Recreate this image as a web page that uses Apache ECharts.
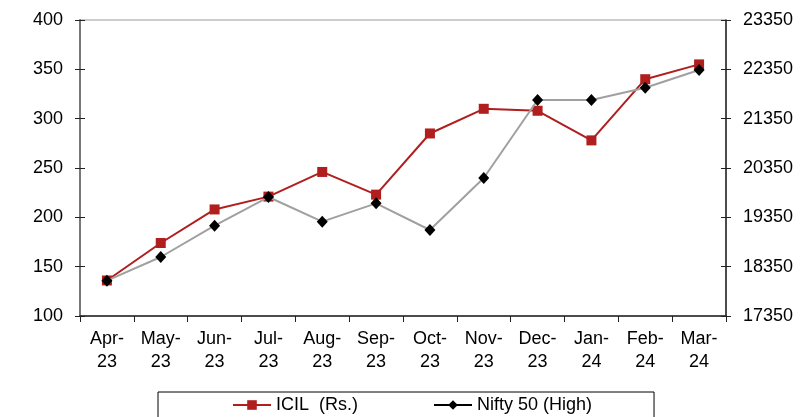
<!DOCTYPE html>
<html>
<head>
<meta charset="utf-8">
<script src="https://cdn.jsdelivr.net/npm/echarts@6/dist/echarts.min.js"></script>
<style>
  html, body { margin: 0; padding: 0; background: #fff; }
  #chart { width: 811px; height: 417px; }
</style>
</head>
<body>
<div id="chart"></div>
<script>
const months = ['Apr-23', 'May-23', 'Jun-23', 'Jul-23', 'Aug-23', 'Sep-23', 'Oct-23', 'Nov-23', 'Dec-23', 'Jan-24', 'Feb-24', 'Mar-24'];
const icil = [136, 174, 208, 221, 246, 223, 285, 310, 308, 278, 340, 355];
const nifty = [18066, 18546, 19180, 19762, 19262, 19634, 19093, 20147, 21728, 21728, 21978, 22337];

const font = 'Liberation Sans, Arial, sans-serif';
const chart = echarts.init(document.getElementById('chart'));

const baseY = (pos, min, max, interval) => ({
  type: 'value',
  position: pos,
  min: min,
  max: max,
  interval: interval,
  splitLine: { show: false },
});

chart.setOption({
  animation: false,
  backgroundColor: '#fff',
  grid: {
    left: 80, right: 85, top: 20, bottom: 101,
    show: true, borderColor: '#999', borderWidth: 1,
  },
  legend: {
    top: 392,
    left: 158,
    padding: [4, 62, 40, 74],
    itemGap: 75,
    itemWidth: 38,
    itemHeight: 12,
    borderColor: '#000',
    borderWidth: 1,
    textStyle: { fontFamily: font, fontSize: 18, color: '#000' },
    data: [
      { name: 'ICIL  (Rs.)' },
      { name: 'Nifty 50 (High)', lineStyle: { color: '#000' } },
    ],
  },
  xAxis: {
    type: 'category',
    data: months,
    boundaryGap: true,
    axisLine: { lineStyle: { color: '#222', width: 1.5 } },
    axisTick: { show: true, length: 6, lineStyle: { color: '#222' } },
    axisLabel: {
      interval: 0,
      margin: 12,
      color: '#000',
      fontFamily: font,
      fontSize: 18,
      lineHeight: 23,
      formatter: (v) => v.replace('-', '-\n'),
    },
  },
  yAxis: [
    Object.assign(baseY('left', 100, 400, 50), {
      axisLine: { show: true, lineStyle: { color: '#777', width: 2 } },
      axisTick: { show: true, length: 5, lineStyle: { color: '#222' } },
      axisLabel: { color: '#000', fontFamily: font, fontSize: 18, margin: 17 },
    }),
    Object.assign(baseY('right', 17350, 23350, 1000), {
      axisLine: { show: true, lineStyle: { color: '#222', width: 1.5 } },
      axisTick: { show: true, length: 5, lineStyle: { color: '#222' } },
      axisLabel: { color: '#000', fontFamily: font, fontSize: 18, margin: 17, formatter: (v) => String(v) },
    }),
    Object.assign(baseY('left', 100, 400, 50), {
      axisLine: { show: false },
      axisTick: { show: true, inside: true, length: 5, lineStyle: { color: '#222' } },
      axisLabel: { show: false },
    }),
    Object.assign(baseY('right', 17350, 23350, 1000), {
      axisLine: { show: false },
      axisTick: { show: true, inside: true, length: 5, lineStyle: { color: '#222' } },
      axisLabel: { show: false },
    }),
  ],
  series: [
    {
      name: 'ICIL  (Rs.)',
      type: 'line',
      yAxisIndex: 0,
      data: icil,
      symbol: 'rect',
      symbolSize: 10,
      lineStyle: { color: '#b01e1e', width: 2 },
      itemStyle: { color: '#b01e1e' },
      z: 2,
    },
    {
      name: 'Nifty 50 (High)',
      type: 'line',
      yAxisIndex: 1,
      data: nifty,
      symbol: 'diamond',
      symbolSize: [11, 12],
      lineStyle: { color: '#a0a0a0', width: 2 },
      itemStyle: { color: '#000' },
      z: 3,
    },
  ],
});
</script>
</body>
</html>
